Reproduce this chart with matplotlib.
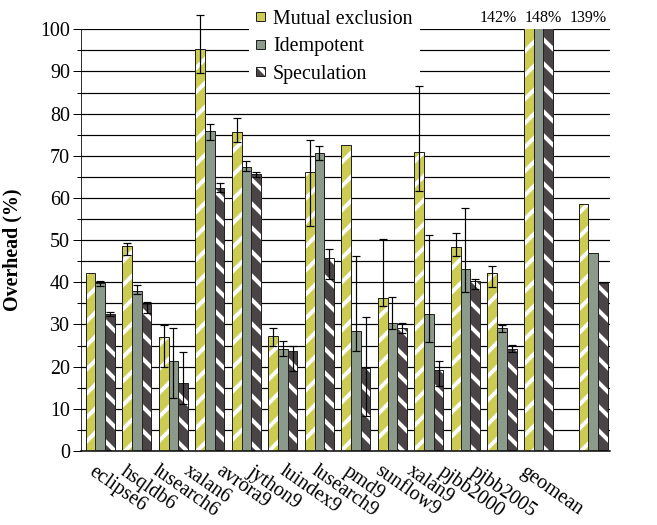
import matplotlib.pyplot as plt
import numpy as np
from matplotlib.patches import Patch
from matplotlib.legend_handler import HandlerTuple

plt.rcParams['font.family'] = ['Liberation Serif', 'DejaVu Serif']
plt.rcParams['hatch.linewidth'] = 4

benchmarks = ["eclipse6", "hsqldb6", "lusearch6", "xalan6", "avrora9", "jython9",
              "luindex9", "lusearch9", "pmd9", "sunflow9", "xalan9", "pjbb2000",
              "pjbb2005", "geomean"]

# bar heights (%), and low/high ends of the error bars (None = no error bar)
mutex = [42.1, 48.6, 27.1, 95.3, 75.6, 27.3, 66.2, 72.6, 36.4, 71.0, 48.3, 42.1, 142, 58.6]
mutex_lo = [None, 46.5, 19.9, 89.7, 73.3, 24.9, 53.4, None, 34.4, 61.7, 46.2, 38.8, None, None]
mutex_hi = [None, 49.3, 29.9, 103.4, 79.0, 29.2, 73.7, None, 50.2, 86.6, 51.8, 43.9, None, None]

idem = [39.9, 38.0, 21.4, 75.8, 67.3, 24.1, 70.7, 28.5, 30.3, 32.4, 43.1, 29.2, 148, 46.9]
idem_lo = [39.2, 37.2, 12.5, 73.8, 66.5, 22.5, 69.0, 23.7, 28.9, 25.8, 37.8, 28.3, None, None]
idem_hi = [40.4, 39.4, 29.1, 77.5, 68.8, 26.1, 72.3, 46.3, 36.6, 51.2, 57.7, 29.9, None, None]

spec = [32.4, 34.9, 16.1, 62.3, 65.7, 23.6, 45.7, 19.8, 29.1, 19.2, 40.4, 24.2, 139, 39.8]
spec_lo = [32.1, 32.7, 11.1, 61.3, 65.0, 19.0, 40.7, 8.3, 28.1, 15.4, 38.3, 23.5, None, None]
spec_hi = [32.9, 35.4, 23.5, 63.6, 66.2, 24.9, 47.9, 31.8, 30.3, 21.4, 40.8, 25.1, None, None]

series_names = ["Mutual exclusion", "Idempotent", "Speculation"]
off_chart = ["142%", "148%", "139%"]

x = np.array(list(range(len(benchmarks) - 1)) + [len(benchmarks) - 0.5])
w = 0.266

fig = plt.figure(figsize=(657 / 72, 525 / 72), dpi=72)
ax = fig.add_axes([81 / 657, 1 - 451 / 525, 529 / 657, 421.7 / 525])

styles = [("#cccc52", "/"), ("#8b9a8b", ""), ("#4a4446", "\\")]
data = [(mutex, mutex_lo, mutex_hi), (idem, idem_lo, idem_hi), (spec, spec_lo, spec_hi)]

handles = []
for k, ((vals, lo, hi), (col, hat)) in enumerate(zip(data, styles)):
    xs = x + (k - 1) * w
    ax.bar(xs, vals, w, color=col, edgecolor="white", hatch=hat, linewidth=0, zorder=2)
    ax.bar(xs, vals, w, fill=False, edgecolor="#222222", linewidth=1, zorder=3)
    idx = [i for i in range(len(vals)) if lo[i] is not None]
    v = np.array([vals[i] for i in idx])
    err = [v - np.array([lo[i] for i in idx]), np.array([hi[i] for i in idx]) - v]
    ax.errorbar(xs[idx], v, yerr=err, fmt="none", ecolor="black", elinewidth=1.2,
                capsize=4, capthick=1.2, zorder=6, clip_on=False)
    handles.append((Patch(facecolor=col, edgecolor="white", hatch=hat, linewidth=0),
                    Patch(fill=False, edgecolor="#222222", linewidth=1)))

ax.set_xlim(-0.53, 13.96)
ax.set_ylim(0, 100)
ax.set_yticks(np.arange(0, 101, 10))
ax.set_yticks(np.arange(5, 100, 10), minor=True)
ax.grid(axis="y", which="both", color="black", linewidth=1.2)
ax.set_axisbelow(True)
ax.tick_params(axis="y", which="major", length=8, width=1, pad=3, labelsize=20)
ax.tick_params(axis="y", which="minor", length=4, width=1)
for s in ["top", "right"]:
    ax.spines[s].set_visible(False)
ax.spines["bottom"].set_linewidth(1.5)

# tick labels sit on their own spacing, as in the original chart
label_x = [i * 0.87 - 0.12 for i in range(len(benchmarks) - 1)] + [11.7]
ax.set_xticks(label_x, benchmarks)
ax.tick_params(axis="x", length=0, pad=11, labelsize=20)
for t in ax.get_xticklabels():
    t.set_rotation(-35)
    t.set_ha("left")
    t.set_va("top")
    t.set_rotation_mode("anchor")

ax.set_ylabel("Overhead (%)", fontsize=20, fontweight="bold")
ax.yaxis.set_label_coords(-0.11, 0.477)

for xp, txt in zip([10.9, 12.13, 13.36], off_chart):
    ax.text(xp, 102.6, txt, ha="center", va="center", fontsize=16, clip_on=False)

leg = ax.legend(handles, series_names, handler_map={tuple: HandlerTuple(ndivide=1)},
                loc="upper left", bbox_to_anchor=(249 / 657, 1 - 3 / 525),
                bbox_transform=fig.transFigure, fontsize=20, frameon=True,
                facecolor="white", edgecolor="none", framealpha=1, fancybox=False,
                handlelength=0.45, handleheight=0.3, handletextpad=0.4,
                labelspacing=0.42, borderpad=0.35, borderaxespad=0)
leg.set_zorder(5)

fig.savefig("out.png", dpi=72)
